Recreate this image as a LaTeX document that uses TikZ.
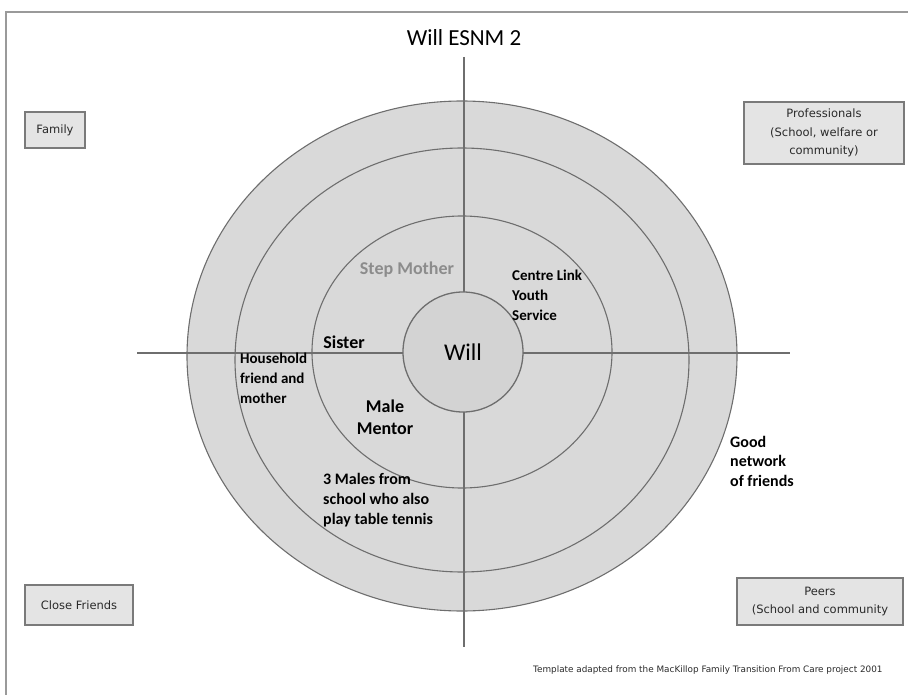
\documentclass[tikz,border=0pt]{standalone}
\usepackage{fontspec}
\setmainfont{Carlito}
\newfontfamily\boxfont{DejaVu Sans}
\definecolor{ringfill}{HTML}{D9D9D9}
\definecolor{corefill}{HTML}{D3D3D3}
\definecolor{ringline}{HTML}{6E6E6E}
\definecolor{boxfill}{HTML}{E4E4E4}
\definecolor{boxline}{HTML}{7A7A7A}
\definecolor{dimtext}{HTML}{8C8C8C}
\definecolor{framecol}{HTML}{9A9A9A}
\definecolor{boxtext}{HTML}{2A2A2A}
\begin{document}
\begin{tikzpicture}[x=1pt,y=-1pt,
  ring/.style={fill=ringfill,draw=ringline,line width=1.1pt},
  axis/.style={draw=ringline,line width=1.1pt},
  quadbox/.style={draw=boxline,fill=boxfill,line width=1.4pt,inner sep=0pt,
    align=center,text=boxtext,font=\boxfont\fontsize{11.5}{18.5}\selectfont},
  lbl/.style={align=left,anchor=west,inner sep=0pt},
]
\useasboundingbox (0,0) rectangle (908,695);
\clip (0,0) rectangle (908,695);
% page frame
\draw[framecol,line width=1.6pt] (6,12) rectangle (930,720);

% title
\node (title) at (464,38) {\fontsize{23}{26}\selectfont Will ESNM 2};

% rings
\path[ring] (462,356) ellipse [x radius=275,y radius=255];
\path[ring] (462,360) ellipse [x radius=227,y radius=212];
\path[ring] (462,352) ellipse [x radius=150,y radius=136];

% axes
\coordinate (top) at (464,57);
\coordinate (bottom) at (464,647);
\coordinate (left) at (137,353);
\coordinate (right) at (790,353);
\draw[axis] (top) -- (bottom);
\draw[axis] (left) -- (right);

% centre
\node[circle,fill=corefill,draw=ringline,line width=1.3pt,minimum size=120pt,inner sep=0pt,
  font=\fontsize{24}{26}\selectfont] (will) at (463,352) {Will};

% ring labels
\node[font=\bfseries\fontsize{18}{20}\selectfont,text=dimtext] (step) at (407,270) {Step Mother};
\node[font=\bfseries\fontsize{18}{20}\selectfont] (sister) at (344,342) {Sister};
\node[lbl,font=\bfseries\fontsize{15}{20}\selectfont] (house) at (240,378) {Household\\friend and\\mother};
\node[align=center,inner sep=0pt,font=\bfseries\fontsize{18}{22}\selectfont] (mentor) at (385,417) {Male\\Mentor};
\node[lbl,font=\bfseries\fontsize{15}{20}\selectfont] (centre) at (512,295) {Centre Link\\Youth\\Service};
\node[lbl,font=\bfseries\fontsize{16}{20}\selectfont] (males) at (323,500) {3 Males from\\school who also\\play table tennis};
\node[lbl,font=\bfseries\fontsize{16}{19.5}\selectfont] (friends) at (730,461) {Good\\network\\of friends};

% corner boxes
\node[quadbox,minimum width=60pt,minimum height=36pt] (family) at (55,130) {Family};
\node[quadbox,minimum width=160pt,minimum height=62pt] (prof) at (824,133)
  {Professionals\\(School, welfare or\\community)};
\node[quadbox,minimum width=108pt,minimum height=40pt] (close) at (79,605) {Close Friends};
\node[quadbox,minimum width=166pt,minimum height=47pt] (peers) at (820,601.5)
  {Peers\\(School and community};

% source note
\node[anchor=west,inner sep=0pt,text=boxtext,font=\boxfont\fontsize{8.85}{10}\selectfont] (note) at (533,670)
  {Template adapted from the MacKillop Family Transition From Care project 2001};
\end{tikzpicture}
\end{document}
